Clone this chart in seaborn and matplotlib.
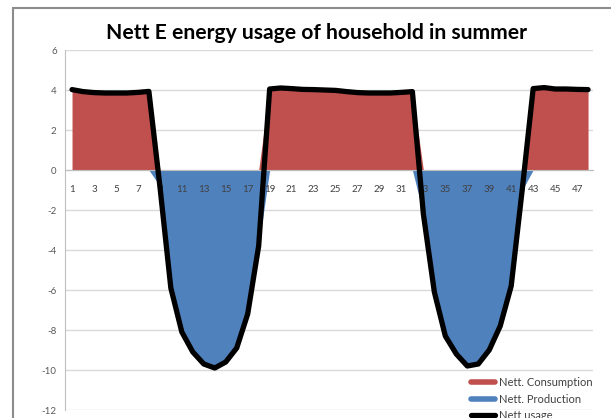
import numpy as np
import matplotlib
matplotlib.use("Agg")
import matplotlib.pyplot as plt
from matplotlib.lines import Line2D
from matplotlib.patches import Rectangle
import seaborn as sns

# Half-hour slots of one summer day (two days of 24 slots each)
slots = list(range(1, 49))

# Net electricity usage per slot (kWh); negative = net production from PV
nett_usage = [
    4.02, 3.92, 3.87, 3.85, 3.85, 3.85, 3.88, 3.93,
    -0.8, -5.9, -8.1, -9.1, -9.7, -9.9, -9.6, -8.9,
    -7.2, -3.8, 4.05, 4.10, 4.07, 4.03, 4.02, 4.00,
    3.98, 3.92, 3.87, 3.85, 3.85, 3.85, 3.88, 3.92,
    -2.2, -6.1, -8.3, -9.2, -9.8, -9.7, -9.0, -7.8,
    -5.8, -1.0, 4.07, 4.12, 4.05, 4.05, 4.03, 4.02,
]

y_ticks = [-12, -10, -8, -6, -4, -2, 0, 2, 4, 6]
x_tick_labels = [str(s) if s % 2 == 1 else "" for s in slots]

title = "Nett E energy usage of household in summer"
series_names = ["Nett. Consumption", "Nett. Production", "Nett usage"]

RED = "#C0504D"
BLUE = "#4F81BD"
GRID = "#D9D9D9"
AXIS = "#BFBFBF"
TEXT = "#595959"

sns.set_style("white")
plt.rcParams["font.family"] = ["Lato", "DejaVu Sans"]

usage = np.array(nett_usage)
x = np.array(slots)
consumption = np.clip(usage, 0, None)
production = np.clip(usage, None, 0)

W, H = 611, 418
fig = plt.figure(figsize=(W / 100, H / 100), dpi=100)
ax = fig.add_axes([65 / W, 8 / H, 528 / W, 360 / H])

# Split areas above and below zero
ax.fill_between(x, 0, consumption, color=RED, lw=0, zorder=1.5)
ax.fill_between(x, 0, production, color=BLUE, lw=0, zorder=1.5)

# Net usage line
sns.lineplot(x=x, y=usage, color="black", lw=3.8, ax=ax, zorder=3,
             legend=False, solid_joinstyle="round", solid_capstyle="round")

ax.set_xlim(0.36, 48.45)
ax.set_ylim(-12, 6)
ax.set_yticks(y_ticks)
ax.set_yticklabels([str(v) for v in y_ticks])
ax.set_xticks(slots)
ax.set_xticklabels(x_tick_labels)
ax.set_xlabel("")
ax.set_ylabel("")

ax.grid(axis="y", color=GRID, lw=1.0)
ax.grid(axis="x", visible=False)

for side in ("top", "right"):
    ax.spines[side].set_visible(False)
ax.spines["left"].set_color(AXIS)
ax.spines["bottom"].set_color(AXIS)
ax.spines["bottom"].set_position(("data", 0))
ax.spines["bottom"].set_zorder(1.6)

ax.tick_params(axis="y", direction="out", length=4, width=0.8, color=AXIS,
               labelsize=7, labelcolor=TEXT, pad=2)
ax.tick_params(axis="x", direction="out", length=3, width=0.8, color=AXIS,
               labelsize=7, labelcolor="#404040", pad=7.5)

# Gridlines under the areas, category labels above them, line on top
ax.yaxis.set_zorder(0.5)
ax.xaxis.set_zorder(2.2)

# Title
fig.text(316 / W, 1 - 33 / H, title, ha="center", va="center",
         fontsize=15.2, fontweight="bold", color="black")

# Outer chart frame
fig.patches.append(Rectangle((13 / W, -0.2), 1.2, 1.2 - 8 / H,
                             transform=fig.transFigure, fill=False,
                             edgecolor="#8C8C8C", lw=1.5))

handles = [
    Line2D([], [], color=RED, lw=4),
    Line2D([], [], color=BLUE, lw=4),
    Line2D([], [], color="black", lw=3.8),
]
fig.legend(handles, series_names, loc="upper left",
           bbox_to_anchor=(471 / W, 1 - 377 / H), bbox_transform=fig.transFigure,
           frameon=False, fontsize=8, handlelength=2.2, handletextpad=0.3,
           labelspacing=0.5, borderpad=0, borderaxespad=0,
           labelcolor="#404040")

fig.savefig("out.png", dpi=100)
